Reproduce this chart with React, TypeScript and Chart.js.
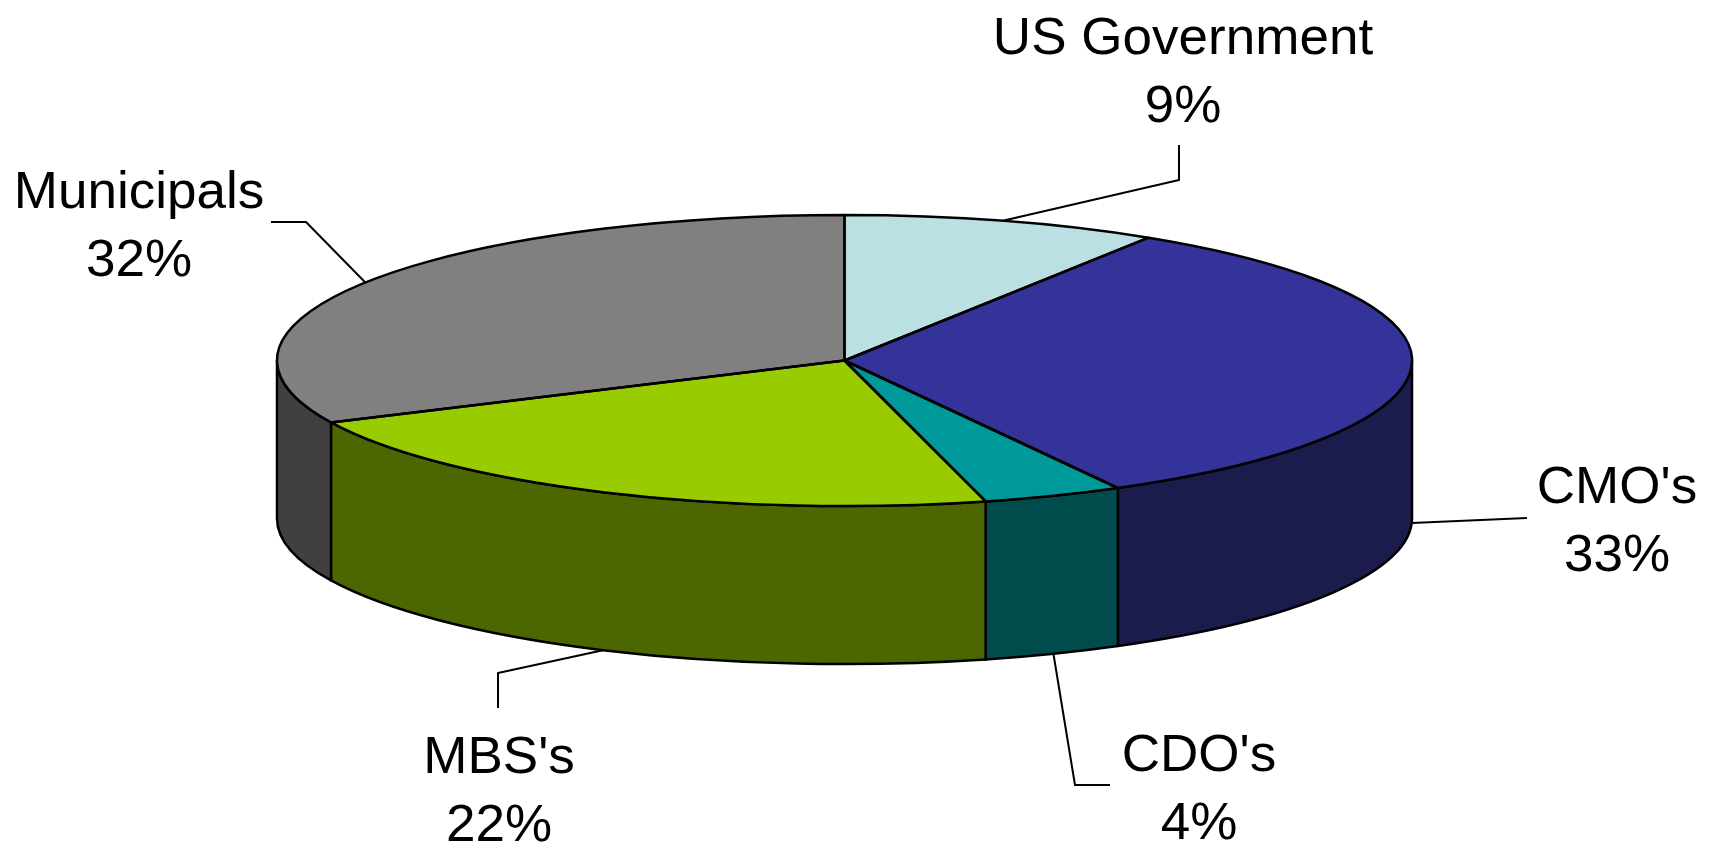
import React, { useEffect, useRef } from 'react';
import { Chart, registerables } from 'chart.js';

Chart.register(...registerables);

// ---- data ----
const categories = ['US Government', "CMO's", "CDO's", "MBS's", 'Municipals'];
const shares = [9, 33, 4, 22, 32];
const topColors = ['#BBE0E3', '#333399', '#009999', '#99CC00', '#808080'];
const sideColors = ['#5D7072', '#1C1C4C', '#004C4C', '#4C6600', '#404040'];

// ---- layout ----
const W = 1723;
const H = 845;
const PIE_BOX = { left: 277, top: 215, right: 1412, bottom: 506 };
const DEPTH = 158;
const FONT = '52px "Liberation Sans", Arial, sans-serif';
const TEXT_STRETCH = 1.02;
const LINE_GAP = 68;
// label centre x, first baseline y, and leader path (from elbow to end) per category
const labelX = [1183, 1617, 1199, 499, 139];
const labelY = [54, 503, 771, 773, 208];
const leaderPaths: number[][][] = [
  [[1179, 180], [1179, 145]],
  [[1527, 518]],
  [[1075, 785], [1110, 785]],
  [[498, 673], [498, 708]],
  [[306, 222], [271, 222]],
];

const pie3d = {
  id: 'pie3d',
  beforeDatasetsDraw(chart: any) {
    const arcs = chart.getDatasetMeta(0).data;
    if (!arcs.length) return;
    const { x: cx, y: cy, outerRadius: r } = arcs[0].getProps(['x', 'y', 'outerRadius'], true);
    const rx = (chart.chartArea.right - chart.chartArea.left) / 2;
    const ry = r;
    const ctx = chart.ctx;
    ctx.save();
    ctx.lineWidth = 2.5;
    ctx.strokeStyle = '#000';
    ctx.lineJoin = 'round';
    arcs.forEach((arc: any, i: number) => {
      const { startAngle, endAngle } = arc.getProps(['startAngle', 'endAngle'], true);
      const s = Math.max(startAngle, 0);
      const e = Math.min(endAngle, Math.PI);
      if (e <= s) return;
      ctx.beginPath();
      ctx.ellipse(cx, cy, rx, ry, 0, s, e, false);
      ctx.ellipse(cx, cy + DEPTH, rx, ry, 0, e, s, true);
      ctx.closePath();
      ctx.fillStyle = sideColors[i];
      ctx.fill();
      ctx.stroke();
    });
    ctx.restore();
    ctx.save();
    ctx.translate(cx, cy);
    ctx.scale(rx / r, 1);
    ctx.translate(-cx, -cy);
  },
  afterDatasetsDraw(chart: any) {
    const ctx = chart.ctx;
    ctx.restore();
    const arcs = chart.getDatasetMeta(0).data;
    if (!arcs.length) return;
    const { x: cx, y: cy, outerRadius: r } = arcs[0].getProps(['x', 'y', 'outerRadius'], true);
    const rx = (chart.chartArea.right - chart.chartArea.left) / 2;
    const ry = r;
    ctx.save();
    ctx.lineWidth = 2.5;
    ctx.strokeStyle = '#000';
    ctx.lineJoin = 'round';
    arcs.forEach((arc: any) => {
      const { startAngle, endAngle } = arc.getProps(['startAngle', 'endAngle'], true);
      ctx.beginPath();
      ctx.moveTo(cx, cy);
      ctx.ellipse(cx, cy, rx, ry, 0, startAngle, endAngle, false);
      ctx.closePath();
      ctx.stroke();
    });
    // leader lines
    ctx.lineWidth = 2;
    const total = shares.reduce((a, b) => a + b, 0);
    arcs.forEach((arc: any, i: number) => {
      const { startAngle, endAngle } = arc.getProps(['startAngle', 'endAngle'], true);
      const mid = (startAngle + endAngle) / 2;
      const px = cx + rx * Math.cos(mid);
      let py = cy + ry * Math.sin(mid);
      if (Math.sin(mid) > 0) py += DEPTH;
      ctx.beginPath();
      ctx.moveTo(px, py);
      leaderPaths[i].forEach((p) => ctx.lineTo(p[0], p[1]));
      ctx.stroke();
    });
    // labels
    ctx.fillStyle = '#000';
    ctx.font = FONT;
    ctx.textAlign = 'center';
    ctx.textBaseline = 'alphabetic';
    categories.forEach((name, i) => {
      const pct = Math.round((shares[i] / total) * 100) + '%';
      [name, pct].forEach((t, k) => {
        ctx.save();
        ctx.translate(labelX[i], labelY[i] + k * LINE_GAP);
        ctx.scale(TEXT_STRETCH, 1);
        ctx.fillText(t, 0, 0);
        ctx.restore();
      });
    });
    ctx.restore();
  },
};

export default function App() {
  const ref = useRef<HTMLCanvasElement | null>(null);
  useEffect(() => {
    if (!ref.current) return;
    const chart = new Chart(ref.current, {
      type: 'pie',
      data: {
        labels: categories,
        datasets: [
          {
            data: shares,
            backgroundColor: topColors,
            borderWidth: 0,
            hoverOffset: 0,
            clip: false as any,
          },
        ],
      },
      options: {
        responsive: false,
        animation: false,
        events: [],
        layout: {
          padding: {
            left: PIE_BOX.left,
            top: PIE_BOX.top,
            right: W - PIE_BOX.right,
            bottom: H - PIE_BOX.bottom,
          },
        },
        plugins: {
          legend: { display: false },
          tooltip: { enabled: false },
        },
      },
      plugins: [pie3d],
    });
    return () => chart.destroy();
  }, []);
  return (
    <div style={{ position: 'absolute', left: 0, top: 0, width: W, height: H, background: '#fff' }}>
      <canvas ref={ref} width={W} height={H} style={{ display: 'block' }} />
    </div>
  );
}
